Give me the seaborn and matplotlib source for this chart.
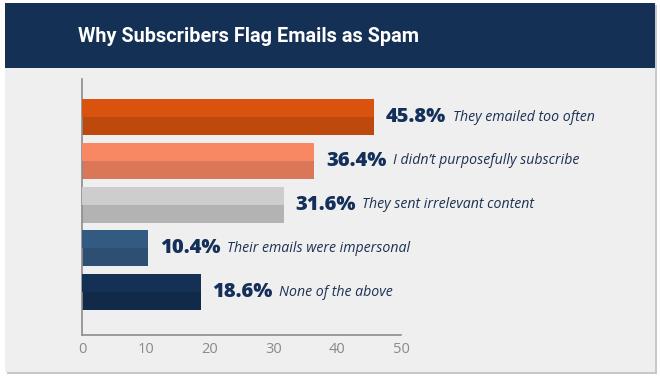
import pandas as pd
import matplotlib.pyplot as plt
import seaborn as sns
from matplotlib.patches import Rectangle

# data
reasons = ['They emailed too often', "I didn\u2019t purposefully subscribe",
           'They sent irrelevant content', 'Their emails were impersonal',
           'None of the above']
percent = [45.8, 36.4, 31.6, 10.4, 18.6]
top_colors = ['#d9530e', '#f88864', '#cdcdcd', '#335a80', '#143155']
bottom_colors = ['#bd4a0c', '#d97758', '#b3b3b3', '#2d4f72', '#112a4a']
xticks = [0, 10, 20, 30, 40, 50]

df = pd.DataFrame({'reason': reasons, 'percent': percent})

sns.set_style('white')
plt.rcParams['font.family'] = ['Open Sans', 'DejaVu Sans']

fig = plt.figure(figsize=(6.6, 3.79), dpi=100)
fig.patch.set_facecolor('white')

# card with shadow
W, H = 660, 379
shadow = Rectangle((7 / W, 1 - 374 / H), 650 / W, 369 / H, transform=fig.transFigure,
                   facecolor='#c8c8c8', edgecolor='none', zorder=0)
card = Rectangle((5 / W, 1 - 372 / H), 650 / W, 369 / H, transform=fig.transFigure,
                 facecolor='#eeefee', edgecolor='none', zorder=1)
header = Rectangle((5 / W, 1 - 68 / H), 650 / W, 65 / H, transform=fig.transFigure,
                   facecolor='#143155', edgecolor='none', zorder=2)
for p in (shadow, card, header):
    fig.patches.append(p)

fig.text(78 / W, 1 - 36 / H, 'Why Subscribers Flag Emails as Spam', color='white',
         fontsize=14.3, fontweight='bold', family='Roboto', va='center', ha='left', zorder=3)

ax = fig.add_axes([82 / W, 1 - 335 / H, 319 / W, 256 / H])
ax.set_facecolor('none')
ax.set_zorder(5)

sns.barplot(data=df, x='percent', y='reason', hue='reason', palette=bottom_colors,
            width=0.82, legend=False, ax=ax, saturation=1, linewidth=0)

# lighter upper half on each bar
for patch, c in zip(ax.patches, top_colors):
    x0, y0 = patch.get_x(), patch.get_y()
    w, h = patch.get_width(), patch.get_height()
    ax.add_patch(Rectangle((x0, y0), w, h / 2, facecolor=c, edgecolor='none',
                           linewidth=0, zorder=3))

for i, (v, r) in enumerate(zip(percent, reasons)):
    t = ax.annotate(f'{v}%', (v, i), xytext=(8.5, 0), textcoords='offset points',
                    va='center', ha='left', fontsize=14.5, fontweight=800,
                    color='#14305a', family='Open Sans')
    ax.annotate(r, xy=(1, 0.5), xycoords=t, xytext=(4.5, 0), textcoords='offset points',
                va='center', ha='left', fontsize=10.2, style='italic',
                color='#1d3155', family='Open Sans')

ax.set_xlim(0, 50)
ax.set_ylim(4.98, -0.87)
ax.set_xticks(xticks)
ax.set_yticks([])
ax.set_xlabel('')
ax.set_ylabel('')
for s in ('top', 'right'):
    ax.spines[s].set_visible(False)
for s in ('left', 'bottom'):
    ax.spines[s].set_color('#8c8c8c')
    ax.spines[s].set_linewidth(1.2)
ax.tick_params(axis='x', direction='in', length=6, width=1, color='#8c8c8c',
               labelcolor='#8a8a8a', labelsize=10.5, pad=5)

fig.savefig('out.png', dpi=100)
